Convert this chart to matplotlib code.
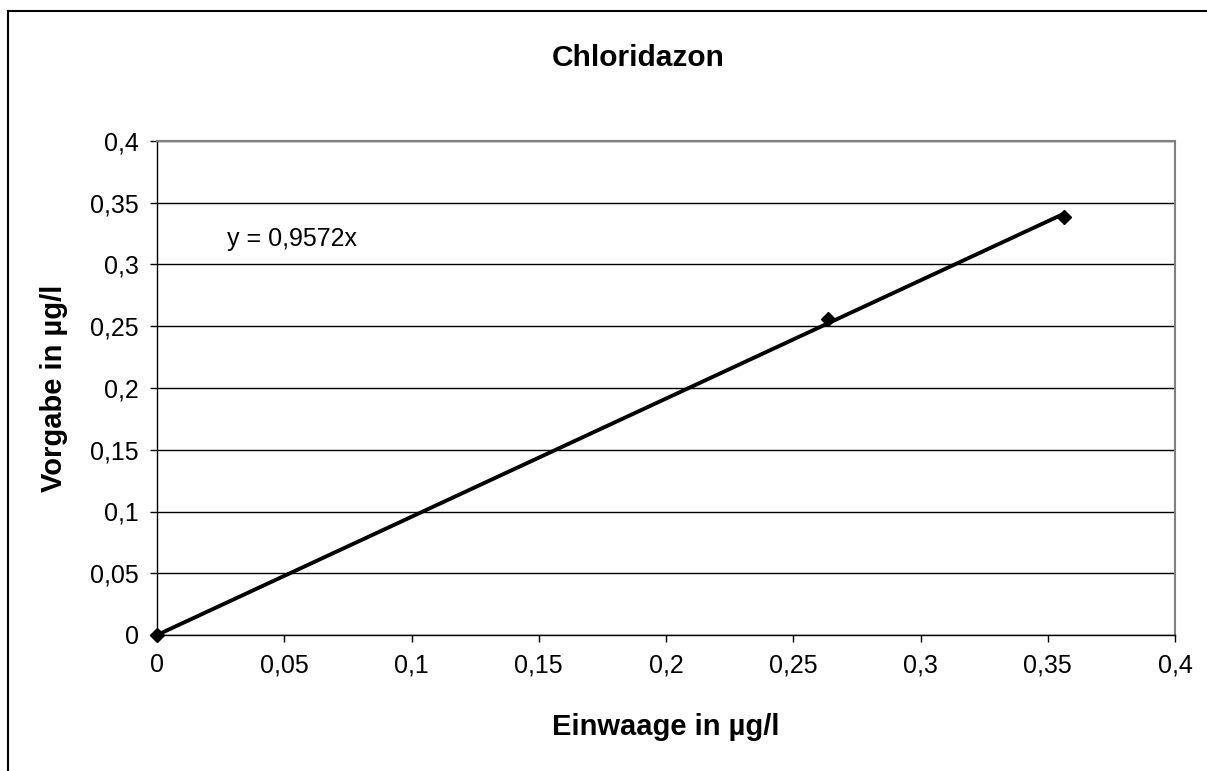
import matplotlib
matplotlib.use("Agg")
import matplotlib.pyplot as plt
from matplotlib.lines import Line2D
import numpy as np

plt.rcParams['font.family'] = ['Liberation Sans', 'DejaVu Sans']

# Messwerte
einwaage = [0.0, 0.2637, 0.3564]
vorgabe = [0.0, 0.2559, 0.3385]
steigung = 0.9572
ticks = [0, 0.05, 0.1, 0.15, 0.2, 0.25, 0.3, 0.35, 0.4]
tick_labels = ["0", "0,05", "0,1", "0,15", "0,2", "0,25", "0,3", "0,35", "0,4"]

fig = plt.figure(figsize=(12.07, 7.71), dpi=100)
ax = fig.add_axes([157/1207, 1 - 635/771, 1018/1207, 494/771])

# Trendlinie durch den Ursprung
xs = np.array([0.0, max(einwaage)])
ax.plot(xs, steigung * xs, color='black', lw=2.8, zorder=3)
ax.plot(einwaage, vorgabe, linestyle='none', marker='D', color='black',
        markersize=7.5, zorder=4, clip_on=False)

ax.set_xlim(0, 0.4)
ax.set_ylim(0, 0.4)
ax.set_xticks(ticks)
ax.set_xticklabels(tick_labels)
ax.set_yticks(ticks)
ax.set_yticklabels(tick_labels)
ax.tick_params(axis='both', labelsize=18, direction='out', length=5, width=1)
ax.tick_params(axis='x', pad=8)
ax.tick_params(axis='y', pad=8)
ax.yaxis.grid(True, color='black', lw=1)
ax.set_axisbelow(True)

for s in ['top', 'right']:
    ax.spines[s].set_color('#808080')
    ax.spines[s].set_linewidth(1.5)
for s in ['left', 'bottom']:
    ax.spines[s].set_color('black')
    ax.spines[s].set_linewidth(1)

ax.text(0.0275, 0.3206, "y = 0,9572x", fontsize=18, ha='left', va='center')

ax.set_xlabel("Einwaage in µg/l", fontsize=21, fontweight='bold', labelpad=26)
ax.set_ylabel("Vorgabe in µg/l", fontsize=21, fontweight='bold', labelpad=16)
fig.text(638/1207, 1 - 58/771, "Chloridazon", fontsize=21.5, fontweight='bold',
         ha='center', va='center')

# Rahmen des Diagramms
fig.add_artist(Line2D([8/1207, 8/1207], [0, 1 - 11/771], color='black', lw=1.5))
fig.add_artist(Line2D([8/1207, 1], [1 - 11/771, 1 - 11/771], color='black', lw=1.5))

fig.savefig("out.png", dpi=100)
